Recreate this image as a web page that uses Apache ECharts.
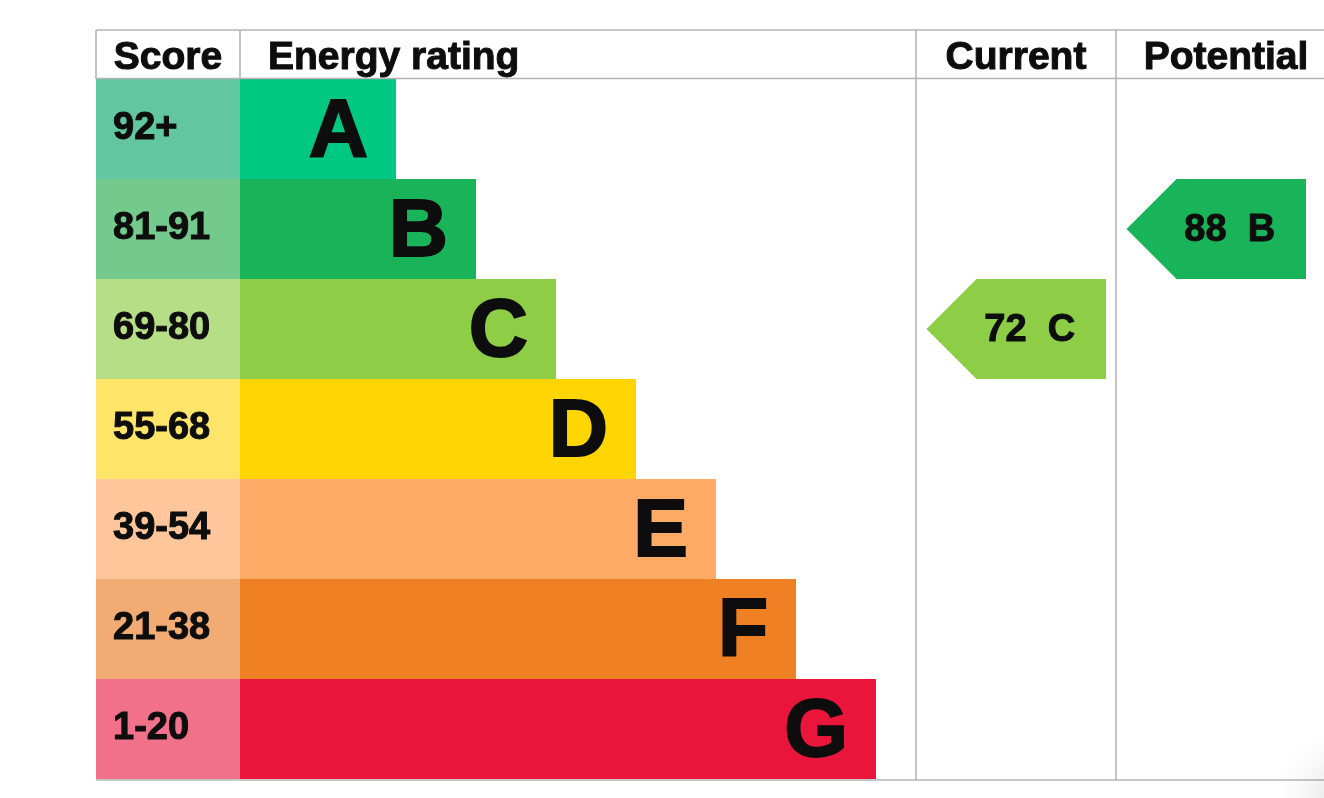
<!DOCTYPE html>
<html>
<head>
<meta charset="utf-8">
<script src="https://cdn.jsdelivr.net/npm/echarts@6/dist/echarts.min.js"></script>
<style>
html,body{margin:0;padding:0;background:#ffffff;}
#chart{width:1324px;height:798px;}
</style>
</head>
<body>
<div id="chart"></div>
<script>
// ---- data ----
const bands = ['A', 'B', 'C', 'D', 'E', 'F', 'G'];
const scoreRanges = ['92+', '81-91', '69-80', '55-68', '39-54', '21-38', '1-20'];
const bandLengths = [156, 236, 316, 396, 476, 556, 636]; // relative bar lengths
const bandColors = ['#00c781', '#19b459', '#8dce46', '#ffd500', '#fcaa65', '#ef8023', '#e9153b'];
const scoreColors = ['#62c6a3', '#74c98c', '#b6de87', '#fee56a', '#ffc69b', '#f2ab73', '#f2718a'];
const headers = ['Score', 'Energy rating', 'Current', 'Potential'];
const currentRating = [[72, 'C']];
const potentialRating = [[88, 'B']];

// ---- layout ----
const FONT = '"Liberation Sans", Arial, Helvetica, sans-serif';
const TOP = 79, ROWS_H = 700, HEAD_TOP = 30;
const X0 = 96, X1 = 240, X2 = 916, X3 = 1116, X4 = 1316, XEND = 1324;
const LINE = '#b4b4b4';
const TXT = '#0d0d0d';

const chart = echarts.init(document.getElementById('chart'), null, {renderer: 'canvas'});

function catAxis(i) {
  return {type: 'category', gridIndex: i, data: bands, inverse: true, show: false};
}
function valAxis(i, max) {
  return {type: 'value', gridIndex: i, min: 0, max: max, show: false};
}

function arrowRender(params, api) {
  const cs = params.coordSys;
  const score = api.value(0);
  const bandIdx = api.value(1);
  const band = bands[bandIdx];
  const cy = api.coord([0, bandIdx])[1];
  const h = api.size([0, 1])[1];
  const left = cs.x + 10.5;
  const right = cs.x + cs.width - 10;
  const color = bandColors[bandIdx];
  return {
    type: 'group',
    children: [
      {
        type: 'polygon',
        shape: {points: [[left, cy], [left + h / 2, cy - h / 2], [right, cy - h / 2], [right, cy + h / 2], [left + h / 2, cy + h / 2]]},
        style: {fill: color}
      },
      {
        type: 'text',
        style: {
          text: score + '  ' + band,
          x: (left + h / 4 + right) / 2 + 1,
          y: cy + 1.5,
          align: 'center',
          verticalAlign: 'middle',
          fill: TXT,
          stroke: TXT,
          lineWidth: 1,
          font: 'bold 38px ' + FONT
        }
      }
    ]
  };
}

const headerLine = (x1, y1, x2, y2) => ({
  type: 'line', z: 100,
  shape: {x1, y1, x2, y2},
  style: {stroke: LINE, lineWidth: 1.6}
});
const headerText = (text, x, align) => ({
  type: 'text', z: 100,
  style: {text, x, y: 58.5, align, verticalAlign: 'middle', fill: TXT, stroke: TXT, lineWidth: 1, font: 'bold 39px ' + FONT}
});

const option = {
  animation: false,
  backgroundColor: '#ffffff',
  grid: [
    {left: X0, top: TOP, width: X1 - X0, height: ROWS_H},
    {left: X1, top: TOP, width: X2 - X1, height: ROWS_H},
    {left: X2, top: TOP, width: X3 - X2, height: ROWS_H},
    {left: X3, top: TOP, width: X4 - X3, height: ROWS_H}
  ],
  xAxis: [valAxis(0, 1), valAxis(1, X2 - X1), valAxis(2, 100), valAxis(3, 100)],
  yAxis: [catAxis(0), catAxis(1), catAxis(2), catAxis(3)],
  series: [
    {
      type: 'bar', xAxisIndex: 0, yAxisIndex: 0,
      barWidth: '100%', barCategoryGap: '0%',
      data: scoreRanges.map((s, i) => ({value: 1, itemStyle: {color: scoreColors[i]}})),
      label: {
        show: true, position: 'insideLeft', distance: 17, offset: [0, -0.5],
        formatter: p => scoreRanges[p.dataIndex],
        color: TXT, fontWeight: 'bold', fontSize: 38, fontFamily: FONT,
        textBorderColor: TXT, textBorderWidth: 1
      }
    },
    {
      type: 'bar', xAxisIndex: 1, yAxisIndex: 1,
      barWidth: '100%', barCategoryGap: '0%',
      data: bandLengths.map((v, i) => ({value: v, itemStyle: {color: bandColors[i]}})),
      label: {
        show: true, position: 'insideRight', distance: 28, offset: [0, 4],
        formatter: p => bands[p.dataIndex],
        color: TXT, fontWeight: 'bold', fontSize: 82, fontFamily: FONT,
        textBorderColor: TXT, textBorderWidth: 2
      }
    },
    {
      type: 'custom', xAxisIndex: 2, yAxisIndex: 2,
      renderItem: arrowRender,
      encode: {x: 0, y: 1},
      data: currentRating
    },
    {
      type: 'custom', xAxisIndex: 3, yAxisIndex: 3,
      renderItem: arrowRender,
      encode: {x: 0, y: 1},
      data: potentialRating
    }
  ],
  graphic: [
    headerLine(X0, HEAD_TOP, XEND, HEAD_TOP),
    headerLine(X0, TOP - 0.5, XEND, TOP - 0.5),
    headerLine(X0, TOP + ROWS_H + 1, XEND, TOP + ROWS_H + 1),
    headerLine(X0, HEAD_TOP, X0, TOP),
    headerLine(X1, HEAD_TOP, X1, TOP),
    headerLine(X2, HEAD_TOP, X2, TOP + ROWS_H + 1),
    headerLine(X3, HEAD_TOP, X3, TOP + ROWS_H + 1),
    headerText(headers[0], (X0 + X1) / 2, 'center'),
    headerText(headers[1], 268, 'left'),
    headerText(headers[2], (X2 + X3) / 2, 'center'),
    headerText(headers[3], 1226, 'center'),
    {
      type: 'rect', z: 101, silent: true,
      shape: {x: 1250, y: 660, width: 74, height: 138},
      style: {
        fill: new echarts.graphic.RadialGradient(1.25, 1.0, 0.9, [
          {offset: 0, color: 'rgba(0,0,0,0.10)'},
          {offset: 0.6, color: 'rgba(0,0,0,0.03)'},
          {offset: 1, color: 'rgba(0,0,0,0)'}
        ])
      }
    }
  ]
};
chart.setOption(option);
</script>
</body>
</html>
